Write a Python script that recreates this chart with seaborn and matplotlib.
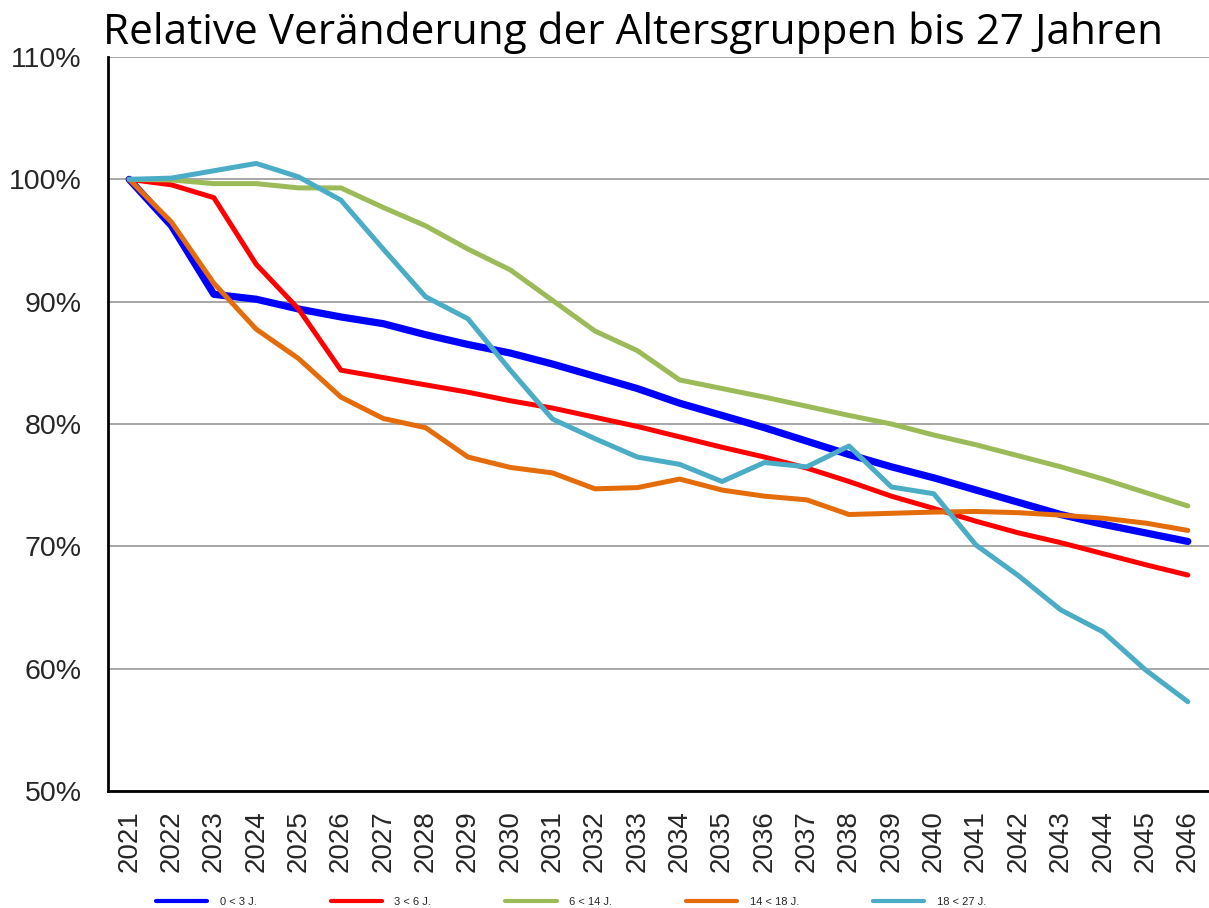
import numpy as np
import pandas as pd
import matplotlib
matplotlib.use('Agg')
import matplotlib.pyplot as plt
from matplotlib.lines import Line2D
import seaborn as sns

# Jahre und relative Werte (in %, 2021 = 100 %)
jahre = list(range(2021, 2047))

g_0_3 = [100.0, 96.2, 90.6, 90.2, 89.4, 88.75, 88.2, 87.3, 86.5, 85.8, 84.9, 83.9,
         82.9, 81.7, 80.7, 79.7, 78.6, 77.5, 76.5, 75.6, 74.6, 73.6, 72.6, 71.8,
         71.1, 70.4]
g_3_6 = [100.0, 99.55, 98.5, 93.05, 89.4, 84.4, 83.8, 83.2, 82.6, 81.9, 81.3, 80.55,
         79.8, 78.95, 78.1, 77.3, 76.4, 75.3, 74.1, 73.1, 72.05, 71.1, 70.3, 69.4,
         68.5, 67.65]
g_6_14 = [100.0, 99.95, 99.65, 99.65, 99.3, 99.3, 97.7, 96.2, 94.3, 92.6, 90.1, 87.6,
          86.0, 83.6, 82.9, 82.2, 81.45, 80.7, 80.0, 79.1, 78.3, 77.4, 76.5, 75.5,
          74.4, 73.3]
g_14_18 = [100.0, 96.5, 91.5, 87.75, 85.35, 82.2, 80.45, 79.7, 77.3, 76.45, 76.0, 74.7,
           74.8, 75.5, 74.6, 74.1, 73.8, 72.6, 72.7, 72.8, 72.85, 72.75, 72.55, 72.3,
           71.9, 71.3]
g_18_27 = [100.0, 100.1, 100.7, 101.3, 100.2, 98.3, 94.3, 90.4, 88.6, 84.4, 80.4, 78.8,
           77.3, 76.7, 75.3, 76.85, 76.5, 78.2, 74.85, 74.3, 70.1, 67.6, 64.8, 63.0,
           59.9, 57.3]

gruppen = ['0 < 3 J.', '3 < 6 J.', '6 < 14 J.', '14 < 18 J.', '18 < 27 J.']
werte = [g_0_3, g_3_6, g_6_14, g_14_18, g_18_27]
farben = ['#0000FF', '#FF0000', '#9BBB59', '#E46C0A', '#4BACC6']
breiten = [5.2, 3.6, 3.6, 3.6, 3.6]

df = pd.concat([pd.DataFrame({'Jahr': jahre, 'Wert': w, 'Gruppe': g})
                for g, w in zip(gruppen, werte)], ignore_index=True)

sns.set_style('white')
plt.rcParams['font.family'] = ['Liberation Sans', 'DejaVu Sans']

fig = plt.figure(figsize=(12.09, 9.08), dpi=100)
ax = fig.add_axes([108 / 1209, 1 - 791 / 908, 1 - 108 / 1209, (791 - 57) / 908])

for g, c, lw in zip(gruppen, farben, breiten):
    sns.lineplot(data=df[df['Gruppe'] == g], x='Jahr', y='Wert', color=c,
                 linewidth=lw, ax=ax, solid_capstyle='round', legend=False)

ax.set_ylim(50, 110)
ax.set_yticks(range(50, 111, 10))
ax.set_yticklabels([f'{v}%' for v in range(50, 111, 10)], fontsize=20.5)
ax.set_xlim(jahre[0] - 0.5, jahre[-1] + 0.5)
ax.set_xticks(jahre)
ax.set_xticklabels([str(j) for j in jahre], rotation=90, fontsize=20)
ax.set_xticks([j + 0.5 for j in [jahre[0] - 1] + jahre], minor=True)
ax.tick_params(axis='x', which='major', length=0, pad=14)
ax.tick_params(axis='x', which='minor', length=8, width=2, direction='out', color='black')
ax.tick_params(axis='y', which='major', length=8, width=2, direction='out', color='black', pad=11)
ax.set_xlabel('')
ax.set_ylabel('')

ax.grid(axis='y', color='#a0a0a0', linewidth=1.3)
ax.set_axisbelow(True)
for s in ['top', 'right']:
    ax.spines[s].set_visible(False)
for s in ['left', 'bottom']:
    ax.spines[s].set_color('black')
    ax.spines[s].set_linewidth(2)

fig.text(103 / 1209, 1 - 33 / 908, 'Relative Veränderung der Altersgruppen bis 27 Jahren',
         fontsize=30.4, family=['Open Sans', 'DejaVu Sans'], va='center', ha='left',
         color='black')

h = [Line2D([], [], color=c, linewidth=3) for c in farben]
fig.legend(h, gruppen, loc='center', bbox_to_anchor=(571 / 1209, 6 / 908), ncol=5,
           frameon=False, fontsize=8, handlelength=4.6, handletextpad=1.1,
           columnspacing=6.7, borderpad=0)

fig.savefig('out.png', dpi=100)
